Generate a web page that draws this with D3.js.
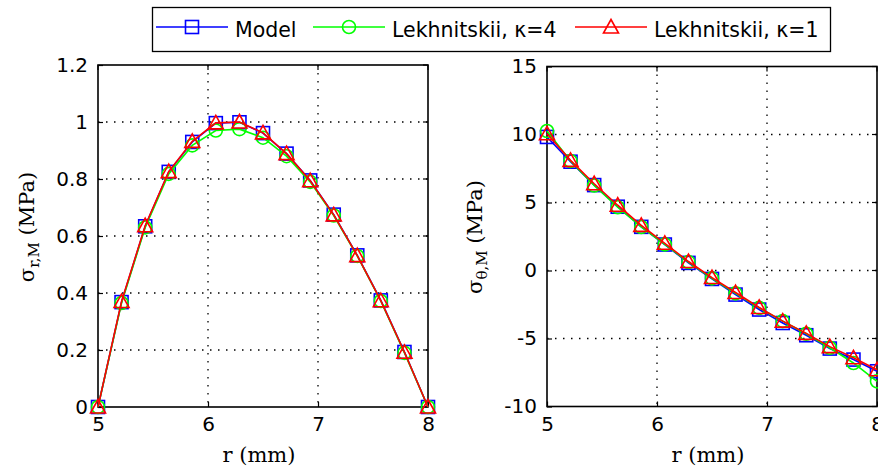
<!DOCTYPE html>
<html>
<head>
<meta charset="utf-8">
<script src="https://cdn.jsdelivr.net/npm/d3@7"></script>
<style>
  body { margin: 0; background: #fff; }
  svg { display: block; }
  .tick text { font-family: "DejaVu Sans", sans-serif; font-size: 20px; fill: #000; }
</style>
</head>
<body>
<div id="chart"></div>
<script>
// radius values (mm), 15 points from 5 to 8
const rValues = [5, 5.214, 5.429, 5.643, 5.857, 6.071, 6.286, 6.5, 6.714, 6.929, 7.143, 7.357, 7.571, 7.786, 8];

// sigma_r,M (MPa)
const radialModel = [0, 0.368, 0.634, 0.825, 0.93, 0.996, 0.999, 0.961, 0.889, 0.795, 0.675, 0.532, 0.374, 0.193, 0];
const radialK4 = [0, 0.365, 0.63, 0.818, 0.918, 0.97, 0.975, 0.945, 0.88, 0.79, 0.672, 0.53, 0.372, 0.19, 0];
const radialK1 = [0, 0.37, 0.636, 0.826, 0.932, 0.997, 1.0, 0.962, 0.889, 0.794, 0.674, 0.531, 0.373, 0.192, 0];

// sigma_theta,M (MPa)
const hoopModel = [9.82, 8.0, 6.28, 4.69, 3.21, 1.91, 0.56, -0.62, -1.77, -2.87, -3.86, -4.76, -5.74, -6.55, -7.41];
const hoopK4 = [10.26, 8.05, 6.25, 4.65, 3.2, 1.92, 0.62, -0.58, -1.68, -2.75, -3.72, -4.65, -5.68, -6.8, -8.15];
const hoopK1 = [10.05, 8.1, 6.38, 4.8, 3.32, 2.0, 0.66, -0.52, -1.62, -2.72, -3.72, -4.62, -5.6, -6.42, -7.3];

const xTicks = [5, 6, 7, 8];
const yTicksLeft = [0, 0.2, 0.4, 0.6, 0.8, 1, 1.2];
const yTicksRight = [-10, -5, 0, 5, 10, 15];

const seriesNames = ["Model", "Lekhnitskii, \u03ba=4", "Lekhnitskii, \u03ba=1"];
const seriesColors = ["#0000ff", "#00ff00", "#ff0000"];
const seriesMarkers = ["square", "circle", "triangle"];

const width = 878, height = 473;

const svg = d3.select("#chart")
  .append("svg")
  .attr("width", width)
  .attr("height", height)
  .attr("viewBox", [0, 0, width, height]);

function drawMarker(g, type, color, cx, cy) {
  if (type === "square") {
    g.append("rect")
      .attr("x", cx - 6.5).attr("y", cy - 6.5)
      .attr("width", 13).attr("height", 13)
      .attr("fill", "none").attr("stroke", color).attr("stroke-width", 1.6);
  } else if (type === "circle") {
    g.append("circle")
      .attr("cx", cx).attr("cy", cy).attr("r", 6.5)
      .attr("fill", "none").attr("stroke", color).attr("stroke-width", 1.6);
  } else {
    g.append("path")
      .attr("d", `M${cx},${cy - 7.5}L${cx + 7.5},${cy + 6}L${cx - 7.5},${cy + 6}Z`)
      .attr("fill", "none").attr("stroke", color).attr("stroke-width", 1.6);
  }
}

function drawPanel(opt) {
  const x = d3.scaleLinear().domain([5, 8]).range([opt.left, opt.right]);
  const y = d3.scaleLinear().domain(opt.yDomain).range([opt.bottom, opt.top]);
  const g = svg.append("g");

  // dotted grid
  g.append("g").selectAll("line")
    .data(xTicks.filter((t) => t > 5 && t < 8))
    .join("line")
    .attr("x1", (d) => x(d)).attr("x2", (d) => x(d))
    .attr("y1", opt.top).attr("y2", opt.bottom)
    .attr("stroke", "#000").attr("stroke-width", 1.3)
    .attr("stroke-dasharray", "1.5 6.5");
  g.append("g").selectAll("line")
    .data(opt.yTicks.slice(1, -1))
    .join("line")
    .attr("x1", opt.left).attr("x2", opt.right)
    .attr("y1", (d) => y(d)).attr("y2", (d) => y(d))
    .attr("stroke", "#000").attr("stroke-width", 1.3)
    .attr("stroke-dasharray", "1.5 6.5");

  // axes with inward ticks
  const xAxis = g.append("g")
    .attr("transform", `translate(0,${opt.bottom})`)
    .call(d3.axisBottom(x).tickValues(xTicks).tickFormat((d) => String(d)).tickSize(-5).tickPadding(10));
  const yAxis = g.append("g")
    .attr("transform", `translate(${opt.left},0)`)
    .call(d3.axisLeft(y).tickValues(opt.yTicks).tickFormat((d) => String(d)).tickSize(-5).tickPadding(10));
  [xAxis, yAxis].forEach((a) => {
    a.select(".domain").remove();
    a.selectAll(".tick line").attr("stroke", "#000").attr("stroke-width", 1.2);
  });
  // top / right ticks
  g.append("g").selectAll("line").data(xTicks).join("line")
    .attr("x1", (d) => x(d)).attr("x2", (d) => x(d))
    .attr("y1", opt.top).attr("y2", opt.top + 5)
    .attr("stroke", "#000").attr("stroke-width", 1.2);
  g.append("g").selectAll("line").data(opt.yTicks).join("line")
    .attr("x1", opt.right).attr("x2", opt.right - 5)
    .attr("y1", (d) => y(d)).attr("y2", (d) => y(d))
    .attr("stroke", "#000").attr("stroke-width", 1.2);

  // box
  g.append("rect")
    .attr("x", opt.left).attr("y", opt.top)
    .attr("width", opt.right - opt.left).attr("height", opt.bottom - opt.top)
    .attr("fill", "none").attr("stroke", "#000").attr("stroke-width", 1.6);

  // series
  const line = d3.line().x((d, i) => x(rValues[i])).y((d) => y(d));
  opt.series.forEach((vals, k) => {
    g.append("path")
      .datum(vals)
      .attr("d", line)
      .attr("fill", "none")
      .attr("stroke", seriesColors[k])
      .attr("stroke-width", 1.6);
    const mg = g.append("g");
    vals.forEach((v, i) => drawMarker(mg, seriesMarkers[k], seriesColors[k], x(rValues[i]), y(v)));
  });

  // x label
  g.append("text")
    .attr("x", (opt.left + opt.right) / 2 - 4)
    .attr("y", 462)
    .attr("text-anchor", "middle")
    .attr("font-family", "DejaVu Serif, serif")
    .attr("font-size", 21)
    .text("r (mm)");

  // y label
  const yl = g.append("text")
    .attr("transform", `translate(${opt.yLabelX},${opt.yLabelY}) rotate(-90)`)
    .attr("text-anchor", "middle")
    .attr("font-family", "DejaVu Serif, serif")
    .attr("font-size", 21);
  yl.append("tspan").text("\u03c3");
  yl.append("tspan").attr("font-size", 15).attr("dy", 5).text(opt.sub);
  yl.append("tspan").attr("dy", -5).text(" (MPa)");
}

drawPanel({
  left: 98, right: 428, top: 65, bottom: 407,
  yDomain: [0, 1.2], yTicks: yTicksLeft,
  series: [radialModel, radialK4, radialK1],
  sub: "r,M", yLabelX: 34, yLabelY: 227
});

drawPanel({
  left: 547, right: 877, top: 66.5, bottom: 406.5,
  yDomain: [-10, 15], yTicks: yTicksRight,
  series: [hoopModel, hoopK4, hoopK1],
  sub: "\u03b8,M", yLabelX: 482, yLabelY: 237
});

// legend
const legend = svg.append("g");
legend.append("rect")
  .attr("x", 152.5).attr("y", 7.5)
  .attr("width", 678).attr("height", 44)
  .attr("fill", "#fff").attr("stroke", "#000").attr("stroke-width", 1.3);
const legendX = [156, 313, 575];
seriesNames.forEach((name, k) => {
  const x0 = legendX[k];
  legend.append("line")
    .attr("x1", x0).attr("x2", x0 + 72)
    .attr("y1", 27).attr("y2", 27)
    .attr("stroke", seriesColors[k]).attr("stroke-width", 1.6);
  drawMarker(legend, seriesMarkers[k], seriesColors[k], x0 + 36, 27);
  legend.append("text")
    .attr("x", x0 + 79).attr("y", 37)
    .attr("font-family", "DejaVu Sans, sans-serif")
    .attr("font-size", 20.5)
    .attr("fill", "#000")
    .text(name);
});
</script>
</body>
</html>
